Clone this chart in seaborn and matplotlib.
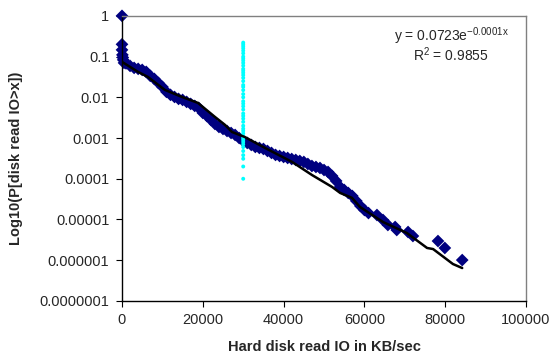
import numpy as np
import pandas as pd
import seaborn as sns
import matplotlib.pyplot as plt
from matplotlib.ticker import FixedLocator, FuncFormatter, NullLocator

# Measured disk read rates (KB/sec) and empirical P[X > x]
read_x = [0, 0, 0, 100, 200, 300, 500,
          1000, 2000, 3000, 4000, 5000, 6000, 7000, 8000, 9000, 10000,
          11000, 12000, 13000, 14000, 15000, 16000, 17000, 18000, 19000, 20000,
          21000, 22000, 23000, 24000, 25000, 26000, 27000, 28000, 29000, 30000,
          31000, 32000, 33000, 34000, 35000, 36000, 37000, 38000, 39000, 40000,
          41000, 42000, 43000, 44000, 45000, 46000, 47000, 48000, 49000, 50000,
          51000, 52000, 53000, 54000, 55000, 56000, 57000, 58000, 59000, 60000, 61000,
          63100, 64600, 65800, 67600, 68000, 70800, 72000, 78200, 79900, 84200]
read_p = [1.0, 0.2, 0.146, 0.11, 0.095, 0.083, 0.07,
          0.068, 0.059, 0.0527, 0.0499, 0.0471, 0.0421, 0.0336, 0.0283, 0.0226, 0.018,
          0.0136, 0.0115, 0.0102, 0.00914, 0.00863, 0.00771, 0.00689, 0.00615, 0.00549, 0.00414,
          0.00349, 0.00279, 0.00222, 0.00187, 0.00167, 0.00149, 0.00133, 0.00119, 0.001, 0.000849,
          0.000758, 0.000676, 0.000604, 0.000571, 0.00054, 0.000482, 0.000431, 0.000385, 0.000363, 0.000343,
          0.000324, 0.000306, 0.00029, 0.000274, 0.000259, 0.000231, 0.000206, 0.000195, 0.000184, 0.000164,
          0.000147, 0.000117, 0.0000883, 0.0000629, 0.0000531, 0.0000448, 0.0000378, 0.0000285, 0.0000215, 0.0000171, 0.0000144,
          0.0000129, 0.00000972, 0.00000733, 0.00000655, 0.00000552, 0.00000493, 0.00000393, 0.00000296, 0.000002, 0.00000101]

# smoothed curve drawn over the data
fit_x = [0, 3960, 6400, 10600, 14850, 18800, 23000, 25500, 27200, 30400, 35400, 42100,
         47000, 52000, 54000, 56900, 58900, 64600, 70500, 75500, 77000, 81900, 84200]
fit_p = [0.0741, 0.0421, 0.0317, 0.0152, 0.0102, 0.00728, 0.0033, 0.0021, 0.00141, 0.00106,
         0.000571, 0.000259, 0.000124, 0.0000629, 0.0000448, 0.0000341, 0.0000203, 0.00000868,
         0.00000466, 0.000002, 0.00000188, 0.000000807, 0.000000643]

# single rate column at 30000 KB/sec
col_x = 30000
col_p = [0.22, 0.2, 0.18, 0.16, 0.14, 0.12, 0.1, 0.09, 0.08, 0.07, 0.06, 0.05, 0.045, 0.04,
         0.035, 0.03, 0.025, 0.02, 0.018, 0.015, 0.012, 0.01, 0.008, 0.007, 0.006, 0.005, 0.004,
         0.0035, 0.003, 0.0025, 0.002, 0.0017, 0.0015, 0.0013, 0.0011, 0.001, 0.0009, 0.0008,
         0.0007, 0.0006, 0.00048, 0.00038, 0.00031, 0.0002, 0.0001]

df_read = pd.DataFrame({"x": read_x, "p": read_p})
df_fit = pd.DataFrame({"x": fit_x, "p": fit_p})
df_col = pd.DataFrame({"x": [col_x] * len(col_p), "p": col_p})

sns.set_style("white")
plt.rcParams["font.family"] = ["Liberation Sans", "DejaVu Sans"]
plt.rcParams["mathtext.default"] = "regular"

fig = plt.figure(figsize=(5.52, 3.6), dpi=100)
ax = fig.add_axes([0.221, 0.164, 0.732, 0.792])

sns.scatterplot(data=df_read, x="x", y="p", marker="D", s=42, color="#000080",
                edgecolor="none", linewidth=0, ax=ax, zorder=2, clip_on=False)
sns.scatterplot(data=df_col, x="x", y="p", marker="o", s=8, color="#00FFFF",
                edgecolor="none", linewidth=0, ax=ax, zorder=3)
sns.lineplot(data=df_fit, x="x", y="p", color="black", linewidth=1.8, ax=ax, zorder=4)

ax.set_yscale("log")
ax.set_ylim(1e-7, 1)
ax.set_xlim(0, 100000)
ax.yaxis.set_major_locator(FixedLocator([10.0 ** k for k in range(-7, 1)]))
ax.yaxis.set_minor_locator(NullLocator())
ax.yaxis.set_major_formatter(FuncFormatter(
    lambda v, pos: "1" if v >= 1 else f"{v:.{int(round(-np.log10(v)))}f}"))
ax.set_xticks(np.arange(0, 100001, 20000))

ax.tick_params(axis="both", direction="out", length=4, width=0.8, color="black",
               labelsize=10.5, pad=5, bottom=True, left=True)
for side in ("left", "bottom"):
    ax.spines[side].set_color("black")
    ax.spines[side].set_linewidth(1.0)
for side in ("top", "right"):
    ax.spines[side].set_color("#808080")
    ax.spines[side].set_linewidth(1.0)

ax.set_xlabel("Hard disk read IO in KB/sec", fontsize=10.5, fontweight="bold", labelpad=9)
ax.set_ylabel("Log10(P[disk read IO>x])", fontsize=10.5, fontweight="bold", labelpad=12)

ax.text(0.815, 0.965, "y = 0.0723e$^{-0.0001x}$", transform=ax.transAxes,
        ha="center", va="top", fontsize=10)
ax.text(0.815, 0.895, "R$^{2}$ = 0.9855", transform=ax.transAxes,
        ha="center", va="top", fontsize=10)

fig.savefig("out.png", dpi=100)
